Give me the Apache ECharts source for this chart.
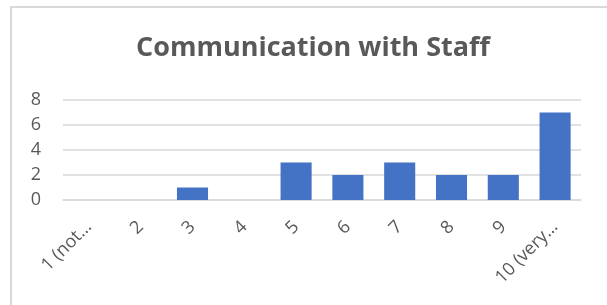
<!DOCTYPE html>
<html>
<head>
<meta charset="utf-8">
<script src="https://cdn.jsdelivr.net/npm/echarts@6/dist/echarts.min.js"></script>
<style>
  html, body { margin: 0; padding: 0; background: #fff; overflow: hidden; }
  #frame { position: absolute; left: 10px; top: 6px; width: 620px; height: 320px;
           border: 2px solid #d9d9d9; box-sizing: border-box; }
  #chart { position: absolute; left: 0; top: 0; width: 607px; height: 305px; }
</style>
</head>
<body>
<div id="frame"></div>
<div id="chart"></div>
<script>
// 评分分布:1~10 分各自的人数
const categories = ["1 (not…", "2", "3", "4", "5", "6", "7", "8", "9", "10 (very…"];
const counts = [0, 0, 1, 0, 3, 2, 3, 2, 2, 7];
const yTicks = [0, 2, 4, 6, 8];

const chart = echarts.init(document.getElementById("chart"));
chart.setOption({
  animation: false,
  title: {
    text: "Communication with Staff",
    left: 131, top: 30,
    textStyle: { fontFamily: "Open Sans", fontSize: 27, fontWeight: "bold", color: "#595959" },
  },
  grid: { left: 63, right: 26, top: 100, bottom: 105 },
  xAxis: {
    type: "category", data: categories,
    axisLine: { show: true, lineStyle: { color: "#d9d9d9", width: 1.5 } },
    axisTick: { show: false },
    axisLabel: { rotate: 45, fontFamily: "Open Sans", fontSize: 18, color: "#595959", margin: 24, interval: 0 },
  },
  yAxis: {
    type: "value", min: yTicks[0], max: yTicks[yTicks.length - 1], interval: 2,
    axisLine: { show: false }, axisTick: { show: false },
    axisLabel: { fontFamily: "Open Sans", fontSize: 18, color: "#595959", margin: 22 },
    splitLine: { lineStyle: { color: "#d9d9d9", width: 1.5 } },
  },
  series: [{
    type: "bar", data: counts, barWidth: "60%",
    itemStyle: { color: "#4472c4" },
  }],
});
</script>
</body>
</html>
